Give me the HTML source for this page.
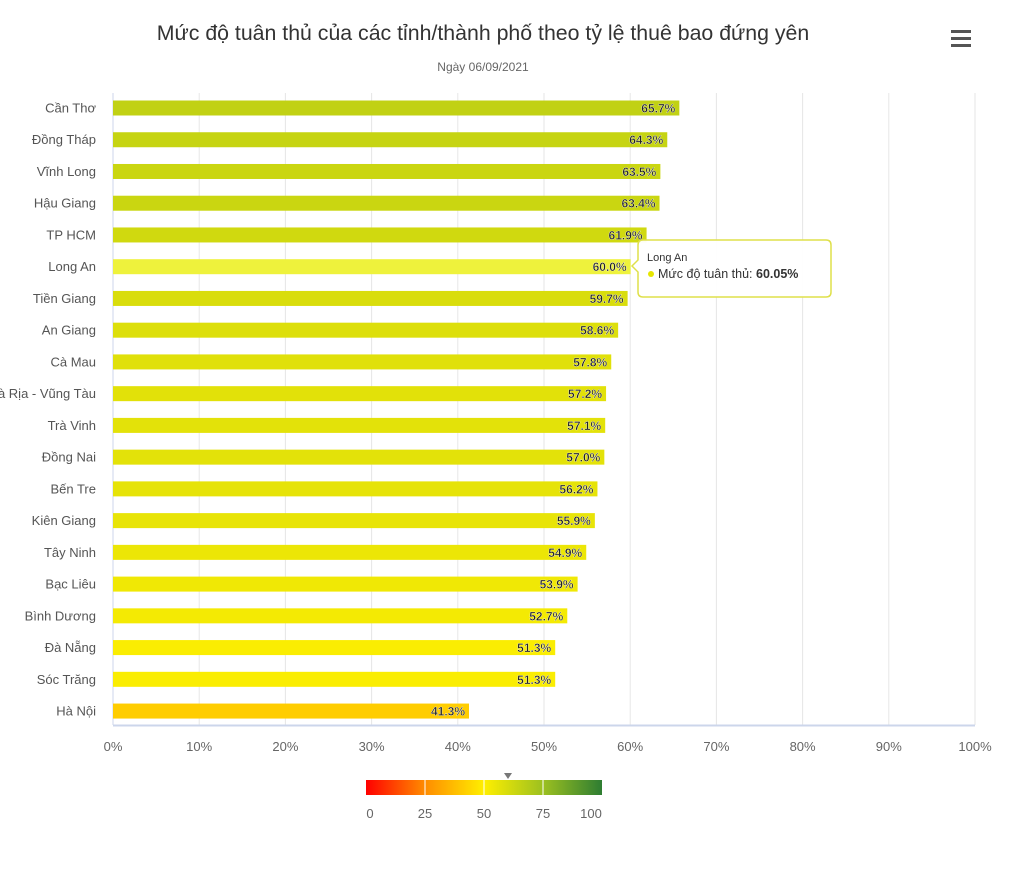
<!DOCTYPE html>
<html><head><meta charset="utf-8"><style>
body{margin:0;background:#fff;width:1024px;height:885px;overflow:hidden;font-family:"Liberation Sans",sans-serif}
</style></head><body>
<svg id="s" width="1024" height="885" xmlns="http://www.w3.org/2000/svg" font-family="Liberation Sans, sans-serif">
<text x="483" y="40" text-anchor="middle" font-size="21.3" fill="#333">Mức độ tuân thủ của các tỉnh/thành phố theo tỷ lệ thuê bao đứng yên</text>
<text x="483" y="71" text-anchor="middle" font-size="12" fill="#666">Ngày 06/09/2021</text>
<g fill="#555"><rect x="951" y="30" width="20" height="3"/><rect x="951" y="37" width="20" height="3"/><rect x="951" y="44" width="20" height="3"/></g>
<g id="g"></g>
<defs><linearGradient id="lg"><stop offset="0" stop-color="#ff0000"/><stop offset=".25" stop-color="#ff8c00"/><stop offset=".5" stop-color="#ffef00"/><stop offset=".75" stop-color="#9cc020"/><stop offset="1" stop-color="#2e7d32"/></linearGradient></defs>
<rect x="366" y="780" width="236" height="15" fill="url(#lg)"/>
<g stroke="#fff" stroke-width="1"><line x1="425" y1="780" x2="425" y2="795"/><line x1="484" y1="780" x2="484" y2="795"/><line x1="543" y1="780" x2="543" y2="795"/></g>
<path d="M504 773 L512 773 L508 779Z" fill="#777"/>
<g font-size="13" fill="#666" text-anchor="middle"><text x="370" y="818">0</text><text x="425" y="818">25</text><text x="484" y="818">50</text><text x="543" y="818">75</text><text x="591" y="818">100</text></g>
</svg>
<script>
var d=[["Cần Thơ",65.7],["Đồng Tháp",64.3],["Vĩnh Long",63.5],["Hậu Giang",63.4],["TP HCM",61.9],["Long An",60.05],["Tiền Giang",59.7],["An Giang",58.6],["Cà Mau",57.8],["Bà Rịa - Vũng Tàu",57.2],["Trà Vinh",57.1],["Đồng Nai",57.0],["Bến Tre",56.2],["Kiên Giang",55.9],["Tây Ninh",54.9],["Bạc Liêu",53.9],["Bình Dương",52.7],["Đà Nẵng",51.3],["Sóc Trăng",51.3],["Hà Nội",41.3]];
var st=[[0,[255,0,0]],[25,[255,140,0]],[50,[255,239,0]],[75,[156,192,32]],[100,[46,125,50]]];
function col(v){for(var i=0;i<4;i++){var a=st[i],b=st[i+1];if(v<=b[0]){var t=(v-a[0])/(b[0]-a[0]);return "rgb("+a[1].map(function(c,k){return Math.round(c+(b[1][k]-c)*t)}).join(",")+")";}}}
var h="",x0=113,W=862;
for(var i=0;i<=10;i++){var x=x0+W*i/10;h+='<line x1="'+x+'" y1="93" x2="'+x+'" y2="725" stroke="'+(i?'#e6e6e6':'#ccd6eb')+'"/>';h+='<text x="'+x+'" y="751" text-anchor="middle" font-size="13" fill="#666">'+i*10+'%</text>';}
h+='<line x1="113" y1="725.5" x2="975" y2="725.5" stroke="#ccd6eb" stroke-width="2"/>';
d.forEach(function(r,i){var y=108+i*31.74,w=W*r[1]/100;var c=col(r[1]);if(i==5)c="#eef23c";
h+='<rect x="113" y="'+(y-7.5)+'" width="'+w+'" height="15" fill="'+c+'"/>';
h+='<text x="96" y="'+(y+4.5)+'" text-anchor="end" font-size="13" fill="#555">'+r[0]+'</text>';
h+='<text x="'+(113+w-4)+'" y="'+(y+4.5)+'" text-anchor="end" font-size="12" font-weight="bold" fill="#222" stroke="#fff" stroke-width="0.3">'+r[1].toFixed(1)+'%</text>';});
h+='<path d="M643 240 H826 Q831 240 831 245 V292 Q831 297 826 297 H643 Q638 297 638 292 V272 L632 266 L638 260 V245 Q638 240 643 240Z" fill="#fff" fill-opacity=".95" stroke="#dfe04a" stroke-width="1.5"/>';
h+='<text x="647" y="261" font-size="11" fill="#333">Long An</text><circle cx="651" cy="274" r="3" fill="#e6e600"/><text x="658" y="278" font-size="12.5" fill="#333">Mức độ tuân thủ: <tspan font-weight="bold">60.05%</tspan></text>';
document.getElementById("g").innerHTML=h;
</script>
</body></html>
